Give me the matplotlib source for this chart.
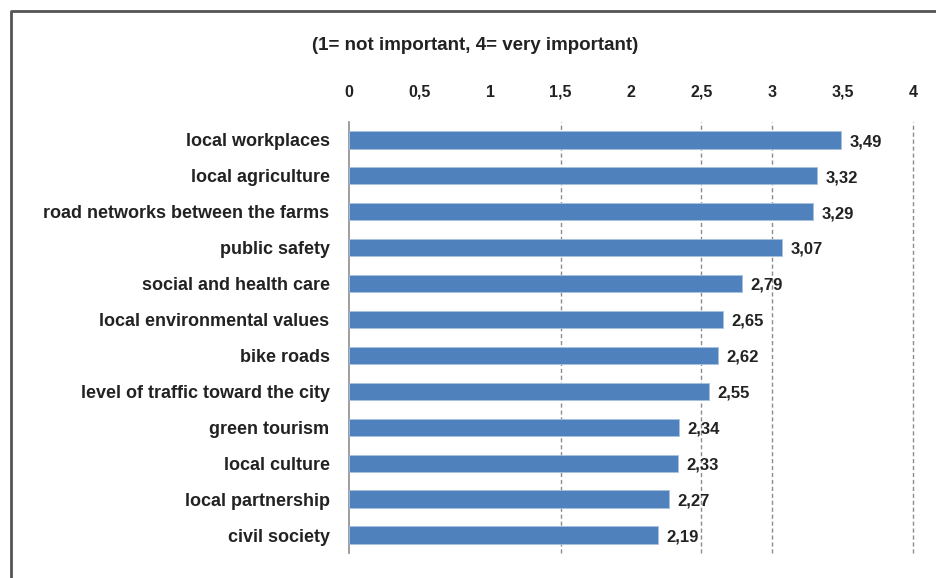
import matplotlib.pyplot as plt
from matplotlib.lines import Line2D

categories = ["local workplaces", "local agriculture", "road networks between the farms",
              "public safety", "social and health care", "local environmental values",
              "bike roads", "level of traffic toward the city", "green tourism",
              "local culture", "local partnership", "civil society"]
values = [3.49, 3.32, 3.29, 3.07, 2.79, 2.65, 2.62, 2.55, 2.34, 2.33, 2.27, 2.19]
tick_vals = [0, 0.5, 1, 1.5, 2, 2.5, 3, 3.5, 4]
tick_labels = ["0", "0,5", "1", "1,5", "2", "2,5", "3", "3,5", "4"]
grid_vals = [1.5, 2.5, 3, 4]

plt.rcParams['font.family'] = ['Liberation Sans', 'DejaVu Sans']

fig = plt.figure(figsize=(9.36, 5.78), dpi=100)
ax = fig.add_axes([0.3729, 0.0433, 0.6025, 0.7457])

ypos = list(range(len(categories)))
ax.barh(ypos, values, height=0.48, color="#4f81bd", edgecolor="#a9c1e0", linewidth=0.6, zorder=3)
for v in grid_vals:
    ax.axvline(v, color="#8c8c8c", linestyle=(0, (3, 2)), linewidth=1.0, zorder=1, clip_on=False)

for y, v in zip(ypos, values):
    ax.text(v + 0.06, y + 0.05, f"{v:.2f}".replace(".", ","), va="center", ha="left",
            fontsize=12, fontweight="bold", color="#222222")

ax.set_ylim(len(categories) - 0.5, -0.5)
ax.set_xlim(0, 4)
ax.set_yticks(ypos)
ax.set_yticklabels(categories, fontsize=13, fontweight="bold", color="#222222")
ax.set_xticks(tick_vals)
ax.set_xticklabels(tick_labels, fontsize=11.5, fontweight="bold", color="#222222")
ax.xaxis.tick_top()
ax.tick_params(axis="x", length=0, pad=18)
ax.tick_params(axis="y", length=0, pad=14)
for lbl in ax.get_xticklabels():
    lbl.set_verticalalignment("baseline")
for s in ["top", "right", "bottom"]:
    ax.spines[s].set_visible(False)
ax.spines["left"].set_color("#8c8c8c")
ax.spines["left"].set_linewidth(1.2)

fig.text(0.508, 0.922, "(1= not important, 4= very important)", ha="center", va="center",
         fontsize=13.5, fontweight="bold", color="#222222")

fig.add_artist(Line2D([11 / 936, 11 / 936, 1], [0, 1 - 11 / 578, 1 - 11 / 578],
                      transform=fig.transFigure, color="#555555", linewidth=2))

fig.savefig("out.png", dpi=100)
